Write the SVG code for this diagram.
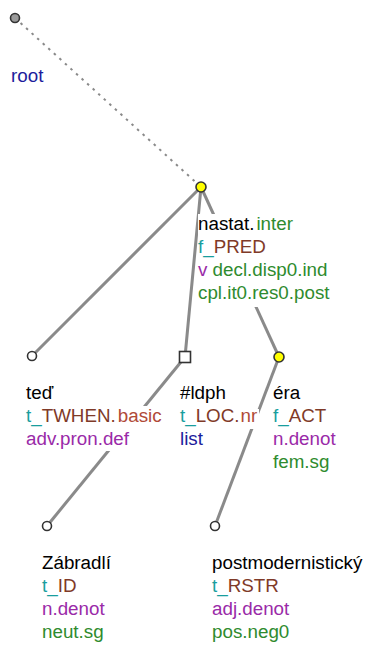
<svg xmlns="http://www.w3.org/2000/svg" width="369" height="648" viewBox="0 0 369 648">
<style>
text{font-family:"Liberation Sans",Arial,sans-serif;font-size:18.8px;fill:#000}
.bg{fill:#fff}
.edge{stroke:#8a8a8a;stroke-width:3;fill:none;stroke-linecap:butt}
.dot{stroke:#8a8a8a;stroke-width:2;fill:none;stroke-dasharray:2.5 5}
.nd{stroke:#333;stroke-width:1.6}
.k{fill:#000}.g{fill:#2e8b2e}.t{fill:#199e9e}.b{fill:#7f3a28}.r{fill:#b04a38}.p{fill:#9a2aa8}.n{fill:#1c1c9c}
</style>
<rect width="369" height="648" fill="#fff"/>
<g id="connectors">
<line class="dot" x1="15" y1="18" x2="201" y2="187"/>
<line class="edge" x1="201" y1="187" x2="32" y2="356"/>
<line class="edge" x1="201" y1="187" x2="185" y2="357"/>
<line class="edge" x1="201" y1="187" x2="279" y2="357"/>
<line class="edge" x1="185" y1="357" x2="47" y2="526"/>
<line class="edge" x1="279" y1="357" x2="215" y2="526"/>
</g>
<g id="root">
<circle class="nd" cx="15" cy="18" r="4.5" fill="#9a9a9a"/>
<text x="11" y="82" class="n">root</text>
</g>
<g id="nastat">
<rect class="bg" x="198" y="214" width="136" height="93"/>
<circle class="nd" cx="201" cy="187" r="5" fill="#ffff00"/>
<text x="198" y="230"><tspan class="k">nastat.</tspan><tspan class="g" dx="2">inter</tspan></text>
<text x="198" y="253"><tspan class="t">f_</tspan><tspan class="b">PRED</tspan></text>
<text x="198" y="276"><tspan class="p">v</tspan><tspan class="g"> decl.disp0.ind</tspan></text>
<text x="198" y="299" class="g">cpl.it0.res0.post</text>
</g>
<g id="ted">
<circle class="nd" cx="32" cy="356" r="4.5" fill="#fff"/>
<rect class="bg" x="26" y="406" width="138" height="45"/>
<text x="26" y="399">teď</text>
<text x="26" y="422"><tspan class="t">t_</tspan><tspan class="b">TWHEN.</tspan><tspan class="r" dx="2">basic</tspan></text>
<text x="26" y="445" class="p">adv.pron.def</text>
</g>
<g id="ldph">
<rect class="nd" x="179.5" y="351.5" width="11" height="11" fill="#fff"/>
<rect class="bg" x="180" y="409" width="79" height="20"/>
<text x="180" y="399">#ldph</text>
<text x="180" y="422"><tspan class="t">t_</tspan><tspan class="b">LOC.</tspan><tspan class="r" dx="1">nr</tspan></text>
<text x="180" y="445" class="n">list</text>
</g>
<g id="era">
<circle class="nd" cx="279" cy="357" r="5" fill="#ffff00"/>
<text x="273" y="399">éra</text>
<text x="273" y="422"><tspan class="t">f_</tspan><tspan class="b">ACT</tspan></text>
<text x="273" y="445" class="p">n.denot</text>
<text x="273" y="468" class="g">fem.sg</text>
</g>
<g id="zabradli">
<circle class="nd" cx="47" cy="526" r="4.5" fill="#fff"/>
<text x="42" y="569">Zábradlí</text>
<text x="42" y="592"><tspan class="t">t_</tspan><tspan class="b">ID</tspan></text>
<text x="42" y="615" class="p">n.denot</text>
<text x="42" y="638" class="g">neut.sg</text>
</g>
<g id="postmodernisticky">
<circle class="nd" cx="215" cy="526" r="4.5" fill="#fff"/>
<text x="212" y="569">postmodernistický</text>
<text x="212" y="592"><tspan class="t">t_</tspan><tspan class="b">RSTR</tspan></text>
<text x="212" y="615" class="p">adj.denot</text>
<text x="212" y="638" class="g">pos.neg0</text>
</g>
</svg>
